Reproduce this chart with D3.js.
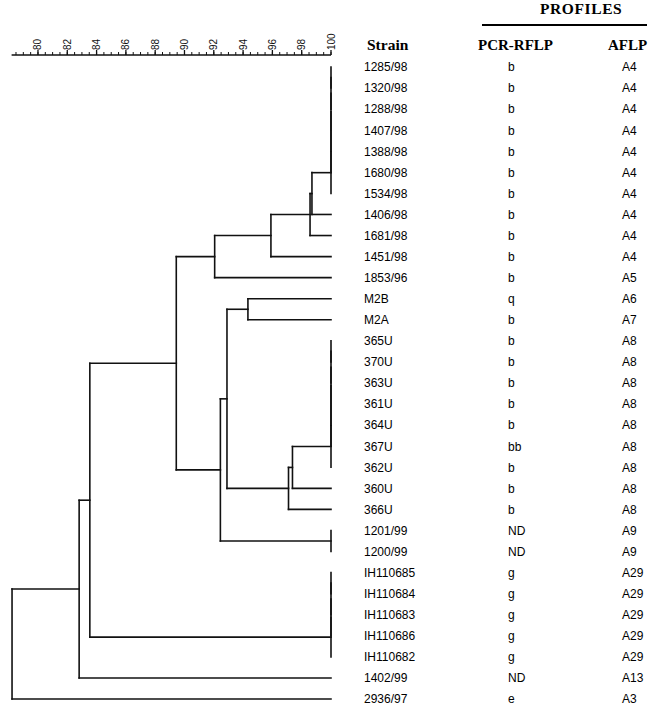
<!DOCTYPE html>
<html>
<head>
<meta charset="utf-8">
<script src="https://cdn.jsdelivr.net/npm/d3@7"></script>
<style>
  html, body { margin: 0; padding: 0; background: #fff; }
  svg { display: block; }
</style>
</head>
<body>
<svg id="chart" width="660" height="727"></svg>
<script>
// ---------------- DATA ----------------
const strains = ["1285/98","1320/98","1288/98","1407/98","1388/98","1680/98","1534/98","1406/98","1681/98","1451/98","1853/96","M2B","M2A","365U","370U","363U","361U","364U","367U","362U","360U","366U","1201/99","1200/99","IH110685","IH110684","IH110683","IH110686","IH110682","1402/99","2936/97"];
const pcrRflp = ["b","b","b","b","b","b","b","b","b","b","b","q","b","b","b","b","b","b","bb","b","b","b","ND","ND","g","g","g","g","g","ND","e"];
const aflp = ["A4","A4","A4","A4","A4","A4","A4","A4","A4","A4","A5","A6","A7","A8","A8","A8","A8","A8","A8","A8","A8","A8","A9","A9","A29","A29","A29","A29","A29","A13","A3"];
// merges: [left child, right child, similarity %]; numbers = leaf index, "mK" = K-th merge
const merges = [
  [0, 1, 100], ["m0", 2, 100], ["m1", 3, 100], ["m2", 4, 100], ["m3", 5, 100], ["m4", 6, 100],
  ["m5", 7, 98.7], ["m6", 8, 98.57], ["m7", 9, 95.9], ["m8", 10, 92.06],
  [11, 12, 94.33],
  [13, 14, 100], ["m11", 15, 100], ["m12", 16, 100], ["m13", 17, 100], ["m14", 18, 100], ["m15", 19, 100],
  ["m16", 20, 97.37], ["m17", 21, 97.1],
  ["m10", "m18", 92.9],
  [22, 23, 100],
  ["m19", "m20", 92.45],
  ["m9", "m21", 89.44],
  [24, 25, 100], ["m23", 26, 100], ["m24", 27, 100], ["m25", 28, 100],
  ["m22", "m26", 83.54],
  ["m27", 29, 82.81],
  ["m28", 30, 78.23]
];
const majorTicks = [80, 82, 84, 86, 88, 90, 92, 94, 96, 98, 100];
const minorTicks = d3.range(78.5, 100.01, 0.5);
const headers = { strain: "Strain", pcr: "PCR-RFLP", aflp: "AFLP", group: "PROFILES" };

// ---------------- SCALES ----------------
const svg = d3.select("#chart");
const x = d3.scaleLinear().domain([78.2, 100]).range([11.6, 331]);
const y = d3.scalePoint().domain(d3.range(strains.length)).range([67, 699]);

// compute node positions
const nodes = {};
strains.forEach((s, i) => { nodes[i] = { sim: 100, y: y(i) }; });
merges.forEach((m, k) => {
  const a = nodes[m[0]], b = nodes[m[1]];
  nodes["m" + k] = { sim: m[2], y: (a.y + b.y) / 2, a, b };
});

// ---------------- DENDROGRAM ----------------
const g = svg.append("g").attr("stroke", "#111").attr("stroke-width", 1.6)
  .attr("fill", "none").attr("stroke-linecap", "square");
merges.forEach((m, k) => {
  const n = nodes["m" + k];
  const px = x(n.sim);
  g.append("line").attr("x1", px).attr("x2", px).attr("y1", n.a.y).attr("y2", n.b.y);
  [n.a, n.b].forEach(c => {
    if (x(c.sim) !== px)
      g.append("line").attr("x1", x(c.sim)).attr("x2", px).attr("y1", c.y).attr("y2", c.y);
  });
});

// ---------------- AXIS ----------------
const axisY = 55;
const ax = svg.append("g").attr("transform", `translate(0,${axisY})`);
ax.append("line").attr("x1", x.range()[0]).attr("x2", x.range()[1]).attr("y1", 0).attr("y2", 0)
  .attr("stroke", "#111").attr("stroke-width", 1.3);
ax.selectAll("line.minor").data(minorTicks).join("line").attr("class", "minor")
  .attr("x1", d => x(d)).attr("x2", d => x(d)).attr("y1", 0).attr("y2", -3)
  .attr("stroke", "#111").attr("stroke-width", 1);
ax.selectAll("line.major").data(majorTicks).join("line").attr("class", "major")
  .attr("x1", d => x(d)).attr("x2", d => x(d)).attr("y1", 0).attr("y2", -5)
  .attr("stroke", "#111").attr("stroke-width", 1.3);
ax.selectAll("text").data(majorTicks).join("text")
  .attr("transform", d => `translate(${x(d) + 3.5},-5) rotate(-90)`)
  .attr("font-family", "Liberation Sans, Arial, sans-serif").attr("font-size", 10)
  .attr("fill", "#111").text(d => d);

// ---------------- TABLE ----------------
const tf = "Liberation Sans, Arial, sans-serif";
const rows = svg.append("g").attr("font-family", tf).attr("font-size", 12).attr("fill", "#000");
rows.selectAll("text.s").data(strains).join("text").attr("class", "s")
  .attr("x", 364).attr("y", (d, i) => y(i)).attr("dy", "0.36em").text(d => d);
rows.selectAll("text.p").data(pcrRflp).join("text").attr("class", "p")
  .attr("x", 508).attr("y", (d, i) => y(i)).attr("dy", "0.36em").text(d => d);
rows.selectAll("text.a").data(aflp).join("text").attr("class", "a")
  .attr("x", 622).attr("y", (d, i) => y(i)).attr("dy", "0.36em").text(d => d);

const hf = "Liberation Serif, Times New Roman, serif";
const hg = svg.append("g").attr("font-family", hf).attr("font-weight", "bold").attr("fill", "#000");
hg.append("text").attr("x", 367).attr("y", 50).attr("font-size", 15.5).text(headers.strain);
hg.append("text").attr("x", 478).attr("y", 50).attr("font-size", 15).text(headers.pcr);
hg.append("text").attr("x", 608).attr("y", 50).attr("font-size", 15).text(headers.aflp);
hg.append("text").attr("x", 540).attr("y", 14).attr("font-size", 15.5).attr("letter-spacing", 0.6).text(headers.group);
svg.append("line").attr("x1", 482).attr("x2", 647).attr("y1", 25).attr("y2", 25)
  .attr("stroke", "#000").attr("stroke-width", 2.2);
</script>
</body>
</html>
